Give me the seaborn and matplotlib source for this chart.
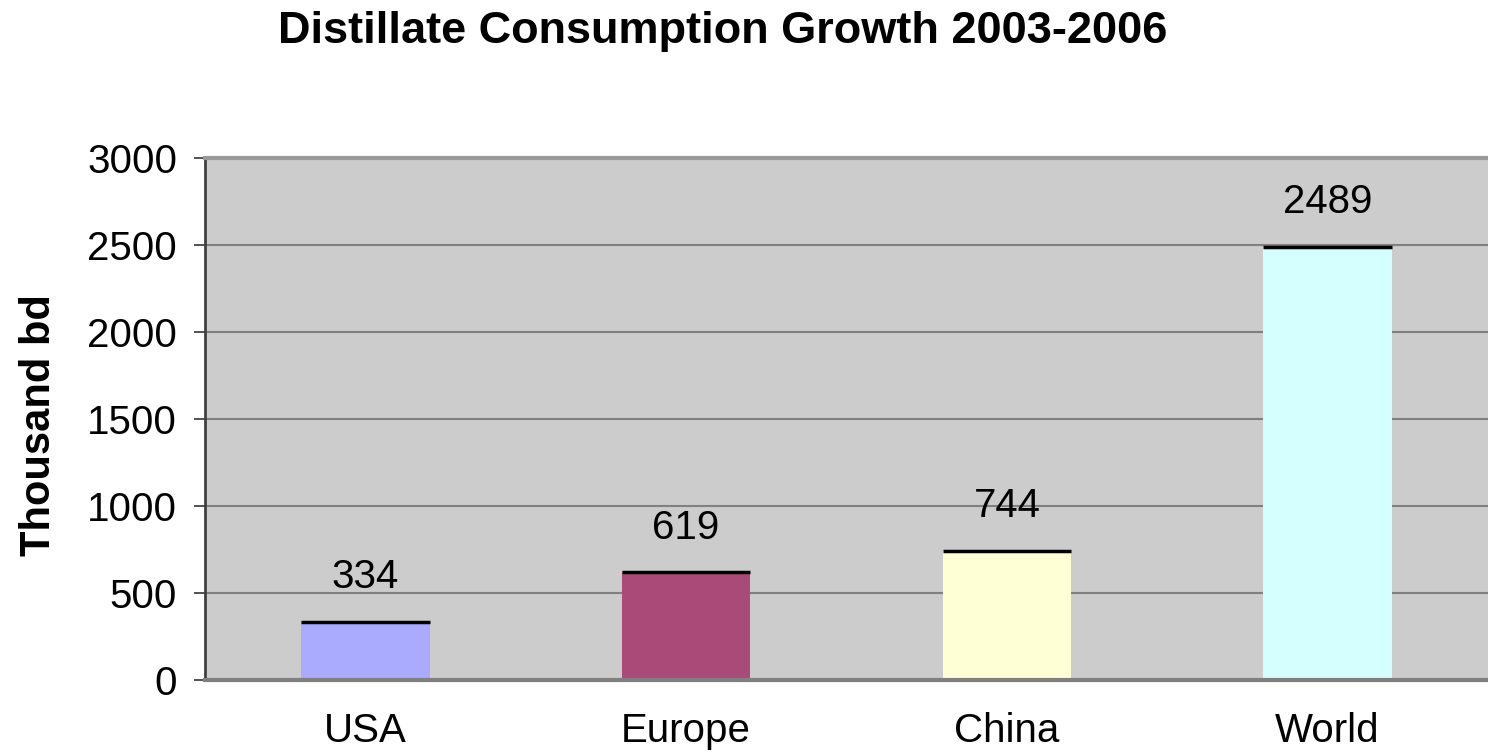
import matplotlib
matplotlib.use("Agg")
import matplotlib.pyplot as plt
import seaborn as sns
import numpy as np

# Chart data
regions = ["USA", "Europe", "China", "World"]
growth = [334, 619, 744, 2489]
bar_colors = ["#AAAAFF", "#AA4A78", "#FFFFD5", "#D5FFFF"]
y_ticks = [0, 500, 1000, 1500, 2000, 2500, 3000]

sns.set_theme(style="white")
plt.rcParams["font.family"] = ["Liberation Sans", "DejaVu Sans"]
plt.rcParams["text.color"] = "black"
plt.rcParams["xtick.labelcolor"] = "black"
plt.rcParams["ytick.labelcolor"] = "black"

fig = plt.figure(figsize=(14.88, 7.56), dpi=100)
ax = fig.add_axes([205 / 1488, 1 - 680 / 756, 1 - 205 / 1488, (680 - 158) / 756])
ax.set_facecolor("#CCCCCC")

sns.barplot(x=regions, y=growth, hue=regions, palette=bar_colors,
            width=0.4, saturation=1, legend=False, ax=ax, edgecolor="none")

# black line on top of each bar, like the old excel style
for patch, val in zip(ax.patches, growth):
    ax.hlines(val, patch.get_x(), patch.get_x() + patch.get_width(),
              color="black", lw=2.5, zorder=4)
    ax.annotate(str(val), (patch.get_x() + patch.get_width() / 2, val),
                xytext=(0, 32), textcoords="offset points",
                ha="center", va="center", fontsize=29, color="black")

ax.set_xlim(-0.5, len(regions) - 0.5)
ax.set_ylim(0, 3000)
ax.set_yticks(y_ticks)
ax.set_yticklabels([str(t) for t in y_ticks], fontsize=29)
ax.yaxis.grid(True, color="#808080", lw=1.5)
ax.set_axisbelow(True)

ax.set_xticks(range(len(regions)))
ax.set_xticklabels(regions, fontsize=29)
ax.set_xticks(np.arange(-0.5, len(regions), 1), minor=True)
ax.tick_params(axis="x", which="major", length=0, pad=23)
ax.tick_params(axis="x", which="minor", length=8, width=1.2, color="#333333", direction="out")
ax.tick_params(axis="y", length=8, width=1.2, color="#333333", direction="out", pad=12, left=True)

ax.spines["right"].set_visible(False)
ax.spines["top"].set_color("#999999")
ax.spines["top"].set_linewidth(3)
ax.spines["left"].set_color("#404040")
ax.spines["left"].set_linewidth(2)
ax.spines["bottom"].set_color("#808080")
ax.spines["bottom"].set_linewidth(3)

ax.set_xlabel("")
ax.set_ylabel("")
fig.text(39 / 1488, 1 - 425 / 756, "Thousand bd", rotation=90, ha="center", va="center",
         fontsize=30, fontweight="bold")
fig.text(723 / 1488, 1 - 32 / 756, "Distillate Consumption Growth 2003-2006",
         ha="center", va="center", fontsize=32.5, fontweight="bold")

fig.savefig("out.png", dpi=100, facecolor="white")
